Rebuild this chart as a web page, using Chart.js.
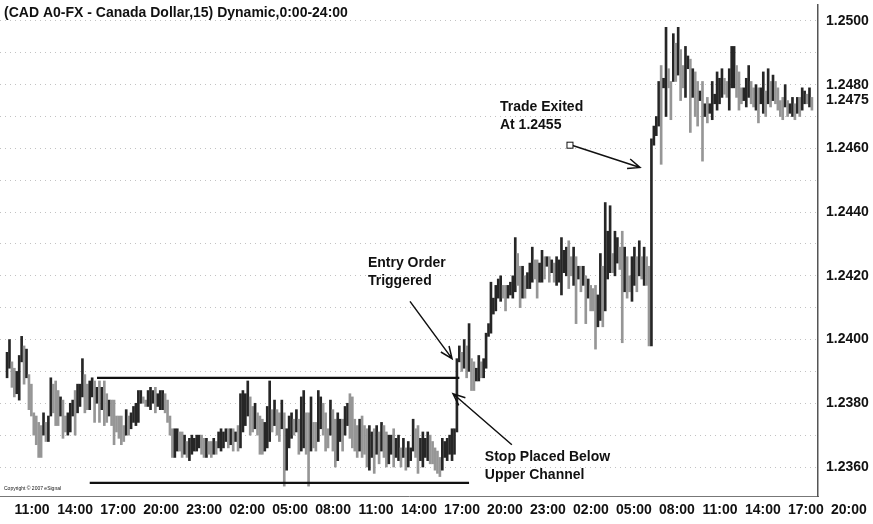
<!DOCTYPE html>
<html>
<head>
<meta charset="utf-8">
<script src="https://cdn.jsdelivr.net/npm/chart.js@4.4.0/dist/chart.umd.min.js"></script>
<style>
  html, body { margin: 0; padding: 0; background: #fff; }
  #wrap { width: 873px; height: 524px; position: relative; }
</style>
</head>
<body>
<div id="wrap"><canvas id="cadChart"></canvas></div>
<script>
// 15 min bars, high / low of each bar
const highs = [
  1.2396,1.2400,1.2393,1.2391,1.2390,1.2395,1.2401,1.2398,1.2397,1.2389,
  1.2386,1.2377,1.2376,1.2374,1.2373,1.2377,1.2374,1.2376,1.2388,1.2386,
  1.2387,1.2384,1.2382,1.2381,1.2376,1.2377,1.2380,1.2381,1.2384,1.2386,
  1.2386,1.2394,1.2389,1.2386,1.2387,1.2388,1.2387,1.2385,1.2387,1.2385,
  1.2387,1.2383,1.2381,1.2381,1.2381,1.2376,1.2376,1.2376,1.2373,1.2378,
  1.2376,1.2377,1.2379,1.2380,1.2384,1.2384,1.2382,1.2381,1.2384,1.2385,
  1.2384,1.2385,1.2383,1.2384,1.2384,1.2383,1.2381,1.2376,1.2372,1.2372,
  1.2372,1.2371,1.2371,1.2370,1.2368,1.2369,1.2370,1.2369,1.2370,1.2370,
  1.2370,1.2369,1.2369,1.2368,1.2368,1.2369,1.2368,1.2371,1.2372,1.2371,
  1.2372,1.2372,1.2372,1.2372,1.2371,1.2373,1.2383,1.2384,1.2383,1.2387,
  1.2382,1.2379,1.2380,1.2377,1.2376,1.2375,1.2374,1.2379,1.2387,1.2378,
  1.2381,1.2378,1.2377,1.2381,1.2377,1.2372,1.2376,1.2377,1.2375,1.2378,
  1.2375,1.2382,1.2384,1.2377,1.2377,1.2382,1.2374,1.2374,1.2384,1.2382,
  1.2380,1.2377,1.2372,1.2381,1.2378,1.2375,1.2377,1.2375,1.2375,1.2379,
  1.2380,1.2383,1.2382,1.2375,1.2373,1.2375,1.2376,1.2373,1.2372,1.2373,
  1.2371,1.2372,1.2373,1.2371,1.2374,1.2373,1.2371,1.2370,1.2370,1.2372,
  1.2369,1.2370,1.2366,1.2369,1.2366,1.2368,1.2366,1.2375,1.2372,1.2373,
  1.2369,1.2371,1.2369,1.2371,1.2370,1.2368,1.2366,1.2365,1.2363,1.2369,
  1.2368,1.2369,1.2370,1.2372,1.2372,1.2394,1.2398,1.2396,1.2400,1.2398,
  1.2405,1.2394,1.2393,1.2391,1.2395,1.2393,1.2394,1.2402,1.2405,1.2418,
  1.2413,1.2417,1.2419,1.2420,1.2417,1.2417,1.2417,1.2418,1.2420,1.2432,
  1.2427,1.2423,1.2423,1.2420,1.2421,1.2424,1.2429,1.2425,1.2425,1.2424,
  1.2428,1.2426,1.2426,1.2426,1.2425,1.2424,1.2426,1.2425,1.2432,1.2428,
  1.2429,1.2431,1.2426,1.2429,1.2426,1.2423,1.2423,1.2423,1.2420,1.2419,
  1.2417,1.2416,1.2417,1.2414,1.2427,1.2423,1.2443,1.2434,1.2442,1.2427,
  1.2434,1.2432,1.2429,1.2434,1.2429,1.2426,1.2420,1.2426,1.2429,1.2426,
  1.2431,1.2426,1.2429,1.2426,1.2423,1.2463,1.2467,1.2470,1.2481,1.2486,
  1.2482,1.2498,1.2485,1.2481,1.2496,1.2493,1.2498,1.2491,1.2486,1.2492,
  1.2489,1.2488,1.2485,1.2484,1.2481,1.2478,1.2481,1.2474,1.2476,1.2474,
  1.2481,1.2477,1.2484,1.2482,1.2485,1.2482,1.2481,1.2485,1.2492,1.2492,
  1.2486,1.2484,1.2479,1.2479,1.2482,1.2486,1.2481,1.2479,1.2480,1.2479,
  1.2479,1.2484,1.2478,1.2485,1.2481,1.2483,1.2481,1.2479,1.2475,1.2476,
  1.2480,1.2475,1.2474,1.2476,1.2474,1.2476,1.2476,1.2479,1.2478,1.2477,
  1.2479,1.2476
];
const lows = [
  1.2388,1.2391,1.2385,1.2382,1.2383,1.2381,1.2393,1.2386,1.2388,1.2378,
  1.2376,1.2370,1.2367,1.2363,1.2363,1.2370,1.2368,1.2368,1.2376,1.2377,
  1.2373,1.2373,1.2376,1.2369,1.2371,1.2370,1.2371,1.2376,1.2370,1.2377,
  1.2379,1.2382,1.2377,1.2378,1.2378,1.2382,1.2374,1.2380,1.2374,1.2378,
  1.2373,1.2374,1.2376,1.2373,1.2367,1.2371,1.2369,1.2367,1.2368,1.2370,
  1.2370,1.2372,1.2374,1.2373,1.2374,1.2380,1.2380,1.2379,1.2379,1.2378,
  1.2380,1.2377,1.2379,1.2378,1.2378,1.2377,1.2374,1.2370,1.2363,1.2363,
  1.2365,1.2365,1.2363,1.2364,1.2363,1.2362,1.2364,1.2365,1.2365,1.2366,
  1.2364,1.2363,1.2363,1.2364,1.2363,1.2364,1.2364,1.2366,1.2365,1.2366,
  1.2368,1.2366,1.2367,1.2365,1.2368,1.2365,1.2366,1.2371,1.2373,1.2376,
  1.2370,1.2371,1.2372,1.2370,1.2364,1.2364,1.2365,1.2366,1.2368,1.2371,
  1.2373,1.2370,1.2368,1.2372,1.2354,1.2359,1.2366,1.2369,1.2370,1.2371,
  1.2364,1.2365,1.2366,1.2364,1.2354,1.2365,1.2366,1.2365,1.2368,1.2372,
  1.2370,1.2365,1.2366,1.2370,1.2365,1.2360,1.2362,1.2368,1.2365,1.2370,
  1.2373,1.2369,1.2366,1.2365,1.2363,1.2365,1.2363,1.2364,1.2360,1.2359,
  1.2363,1.2358,1.2364,1.2361,1.2365,1.2363,1.2360,1.2361,1.2364,1.2360,
  1.2363,1.2362,1.2360,1.2363,1.2359,1.2360,1.2362,1.2365,1.2363,1.2358,
  1.2362,1.2360,1.2363,1.2362,1.2361,1.2361,1.2359,1.2358,1.2357,1.2359,
  1.2363,1.2362,1.2364,1.2362,1.2364,1.2371,1.2393,1.2390,1.2391,1.2388,
  1.2390,1.2384,1.2384,1.2387,1.2387,1.2388,1.2388,1.2391,1.2401,1.2402,
  1.2408,1.2409,1.2413,1.2412,1.2413,1.2409,1.2413,1.2414,1.2413,1.2415,
  1.2417,1.2410,1.2413,1.2413,1.2416,1.2416,1.2418,1.2419,1.2413,1.2418,
  1.2418,1.2419,1.2423,1.2418,1.2421,1.2418,1.2417,1.2418,1.2414,1.2421,
  1.2420,1.2416,1.2420,1.2417,1.2405,1.2419,1.2415,1.2417,1.2405,1.2413,
  1.2409,1.2409,1.2397,1.2404,1.2406,1.2404,1.2409,1.2419,1.2421,1.2421,
  1.2420,1.2424,1.2422,1.2399,1.2415,1.2413,1.2415,1.2412,1.2417,1.2415,
  1.2420,1.2419,1.2417,1.2417,1.2398,1.2398,1.2461,1.2464,1.2467,1.2455,
  1.2479,1.2470,1.2479,1.2469,1.2481,1.2481,1.2483,1.2475,1.2479,1.2476,
  1.2485,1.2465,1.2476,1.2470,1.2467,1.2475,1.2456,1.2470,1.2468,1.2471,
  1.2469,1.2474,1.2472,1.2474,1.2476,1.2477,1.2476,1.2472,1.2479,1.2479,
  1.2476,1.2472,1.2474,1.2475,1.2473,1.2476,1.2474,1.2473,1.2472,1.2468,
  1.2474,1.2471,1.2470,1.2474,1.2473,1.2475,1.2474,1.2472,1.2470,1.2469,
  1.2473,1.2470,1.2471,1.2470,1.2469,1.2471,1.2470,1.2472,1.2474,1.2474,
  1.2473,1.2472
];

const tickLabels = ['11:00','14:00','17:00','20:00','23:00','02:00','05:00','08:00','11:00','14:00',
                    '17:00','20:00','23:00','02:00','05:00','08:00','11:00','14:00','17:00','20:00'];
const firstTick = 10.3;   // bar index of the first time label
const tickStep = 17.68;   // bars between two time labels

const gridPrices = [1.2360,1.2370,1.2380,1.2390,1.2400,1.2410,1.2420,1.2430,1.2440,1.2450,1.2460,1.2470,1.2480,1.2490,1.2500];
const priceLabels = [1.2360,1.2380,1.2400,1.2420,1.2440,1.2460,1.2480,1.2500];
const lastPrice = 1.2475;

// channel lines: bar index / price
const upperChannel = [{x: 37, y: 1.2388}, {x: 186, y: 1.2388}];
const lowerChannel = [{x: 34, y: 1.2355}, {x: 190, y: 1.2355}];

// text notes and arrows, in bar index / price
const notes = [
  {lines: ['Trade Exited', 'At 1.2455'], x: 202.7, y: 1.2473},
  {lines: ['Entry Order', 'Triggered'], x: 148.4, y: 1.2424},
  {lines: ['Stop Placed Below', 'Upper Channel'], x: 196.5, y: 1.2363}
];
const arrows = [
  {from: {x: 232.3, y: 1.2461}, to: {x: 260.3, y: 1.2454}},
  {from: {x: 165.7, y: 1.2412}, to: {x: 183.0, y: 1.2394}},
  {from: {x: 207.6, y: 1.2367}, to: {x: 183.4, y: 1.2383}}
];
const exitMark = {x: 231.5, y: 1.2461};

const FONT = '"Liberation Sans", Arial, sans-serif';

const barColors = highs.map((h, i) =>
  i === 0 || h + lows[i] >= highs[i - 1] + lows[i - 1] ? '#262626' : '#969696');

const notesPlugin = {
  id: 'notes',
  afterDatasetsDraw(chart) {
    const {ctx, scales: {x, y}} = chart;
    ctx.save();
    ctx.fillStyle = '#111';
    ctx.strokeStyle = '#111';
    ctx.font = 'bold 14px ' + FONT;
    ctx.textBaseline = 'middle';
    notes.forEach(n => {
      n.lines.forEach((t, k) => ctx.fillText(t, x.getPixelForValue(n.x), y.getPixelForValue(n.y) + k * 18));
    });
    ctx.lineWidth = 1.5;
    arrows.forEach(a => {
      const x1 = x.getPixelForValue(a.from.x), y1 = y.getPixelForValue(a.from.y);
      const x2 = x.getPixelForValue(a.to.x), y2 = y.getPixelForValue(a.to.y);
      const ang = Math.atan2(y2 - y1, x2 - x1);
      ctx.beginPath();
      ctx.moveTo(x1, y1);
      ctx.lineTo(x2, y2);
      ctx.moveTo(x2 - 13 * Math.cos(ang - 0.4), y2 - 13 * Math.sin(ang - 0.4));
      ctx.lineTo(x2, y2);
      ctx.lineTo(x2 - 13 * Math.cos(ang + 0.4), y2 - 13 * Math.sin(ang + 0.4));
      ctx.stroke();
    });
    const mx = x.getPixelForValue(exitMark.x), my = y.getPixelForValue(exitMark.y);
    ctx.fillStyle = '#fff';
    ctx.lineWidth = 1;
    ctx.fillRect(mx - 3, my - 3, 6, 6);
    ctx.strokeRect(mx - 3, my - 3, 6, 6);
    ctx.restore();
  },
  afterDraw(chart) {
    const {ctx, chartArea} = chart;
    ctx.save();
    ctx.fillStyle = '#111';
    ctx.font = 'bold 14px ' + FONT;
    ctx.textBaseline = 'alphabetic';
    ctx.fillText('(CAD A0-FX - Canada Dollar,15) Dynamic,0:00-24:00', 4, 17);
    ctx.font = '5px ' + FONT;
    ctx.fillText('Copyright \u00a9 2007 eSignal', chartArea.left + 4, chartArea.bottom - 6);
    ctx.restore();
  }
};

new Chart(document.getElementById('cadChart'), {
  type: 'bar',
  data: {
    datasets: [
      {
        type: 'bar',
        data: highs.map((h, i) => ({x: i, y: [lows[i], h]})),
        backgroundColor: barColors,
        barThickness: 2,
        order: 2
      },
      {
        type: 'line',
        data: upperChannel,
        borderColor: '#111',
        borderWidth: 2.2,
        pointRadius: 0,
        fill: false,
        order: 1
      },
      {
        type: 'line',
        data: lowerChannel,
        borderColor: '#111',
        borderWidth: 2.2,
        pointRadius: 0,
        fill: false,
        order: 1
      }
    ]
  },
  options: {
    responsive: true,
    maintainAspectRatio: false,
    animation: false,
    layout: { padding: { top: 5, left: 0, right: 0, bottom: 0 } },
    plugins: { legend: { display: false }, tooltip: { enabled: false } },
    scales: {
      x: {
        type: 'linear',
        min: -2.9,
        max: 333.5,
        offset: false,
        grid: { display: false, drawTicks: false },
        border: { display: true, color: '#777', width: 1 },
        afterBuildTicks: s => { s.ticks = tickLabels.map((_, k) => ({ value: firstTick + k * tickStep })); },
        afterFit: s => { s.height = 28; s.paddingLeft = 0; s.paddingRight = 0; },
        ticks: {
          autoSkip: false,
          maxRotation: 0,
          padding: 6,
          color: '#111',
          font: { family: FONT, size: 14, weight: 'bold' },
          callback: (v, i) => tickLabels[i]
        }
      },
      y: {
        position: 'right',
        min: 1.23509,
        max: 1.2505,
        afterBuildTicks: s => { s.ticks = gridPrices.concat([lastPrice]).map(v => ({ value: v })); },
        afterFit: s => { s.width = 55; s.paddingTop = 0; s.paddingBottom = 0; },
        grid: {
          drawTicks: false,
          lineWidth: 1,
          color: c => (c.tick && Math.abs(c.tick.value - lastPrice) < 1e-6 ? 'rgba(0,0,0,0)' : '#c2c2c2')
        },
        border: { display: true, color: '#555', width: 1.5, dash: [1, 4] },
        ticks: {
          autoSkip: false,
          padding: 8,
          color: '#111',
          font: { family: FONT, size: 14, weight: 'bold' },
          callback: v => {
            const s = v.toFixed(4);
            return priceLabels.concat([lastPrice]).some(p => p.toFixed(4) === s) ? s : '';
          }
        }
      }
    }
  },
  plugins: [notesPlugin]
});
</script>
</body>
</html>
